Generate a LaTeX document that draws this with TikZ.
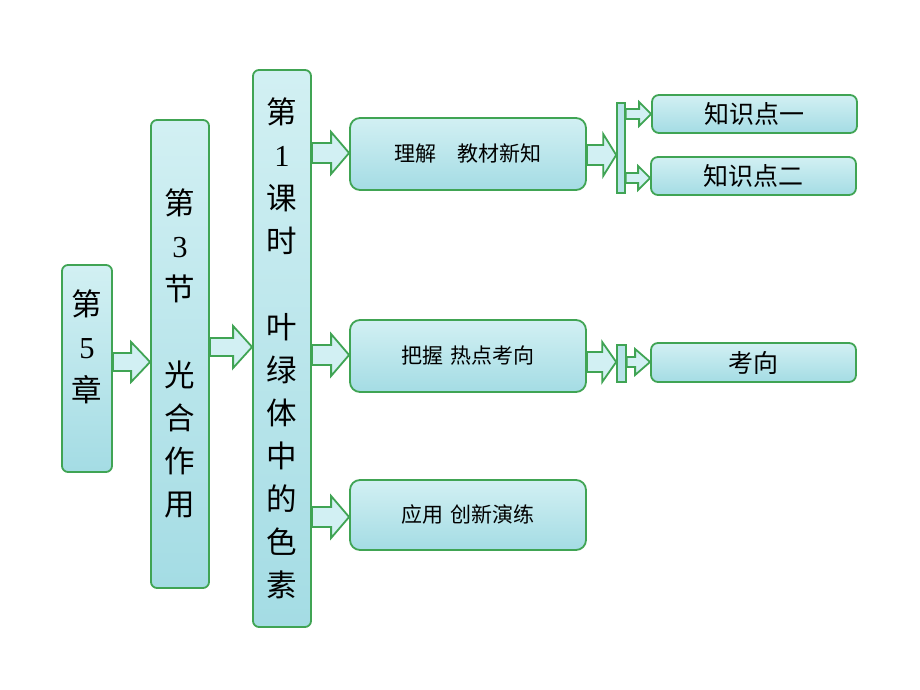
\documentclass[tikz,border=0pt]{standalone}
\usepackage{fontspec}
\setmainfont{Noto Sans CJK SC}
\newfontfamily\dig{Liberation Serif}
\usetikzlibrary{calc}
\definecolor{boxtop}{RGB}{210,240,243}
\definecolor{boxbot}{RGB}{164,220,228}
\definecolor{gline}{RGB}{64,164,84}
\tikzset{
  tallbox/.style={draw=gline,line width=1.8pt,rounded corners=6pt,top color=boxtop,bottom color=boxbot,inner sep=0pt},
  widebox/.style={draw=gline,line width=1.8pt,rounded corners=10pt,top color=boxtop,bottom color=boxbot,inner sep=0pt},
  barbox/.style={draw=gline,line width=1.6pt,fill=boxbot!80!white,inner sep=0pt},
  tallText/.style={align=center,font=\fontsize{30.5}{43}\selectfont,inner sep=0pt},
  wideText/.style={font=\fontsize{21}{24}\selectfont,inner sep=0pt},
  smallText/.style={font=\fontsize{25}{28}\selectfont,inner sep=0pt},
  arrowst/.style={draw=gline,line width=1.8pt,fill=boxtop,line join=miter}
}
% #1 from, #2 to, #3 y, #4 shaft half, #5 head half, #6 head length
\newcommand\blk[6]{%
  \draw[arrowst] let \p1=(#1.east), \p2=(#2.west) in
    (\x1,#3-#4) -- (\x2-#6,#3-#4) -- (\x2-#6,#3-#5) -- (\x2,#3)
    -- (\x2-#6,#3+#5) -- (\x2-#6,#3+#4) -- (\x1,#3+#4) -- cycle;}
\begin{document}
\begin{tikzpicture}[x=1pt,y=1pt]
\useasboundingbox (0,0) rectangle (920,690);
% tall boxes
\node[tallbox,minimum width=50pt,minimum height=207pt] (ch) at (87,321.5) {};
\node[tallText] (chT) at (87,343) {第\\{\dig 5}\\章};
\node[tallbox,minimum width=58pt,minimum height=468pt] (sec) at (180,336) {};
\node[tallText] (secT) at (180,337) {第\\{\dig 3}\\节\\\\光\\合\\作\\用};
\node[tallbox,minimum width=58pt,minimum height=557pt] (les) at (282,341.5) {};
\node[tallText] (lesT) at (282,342) {第\\{\dig 1}\\课\\时\\\\叶\\绿\\体\\中\\的\\色\\素};
% wide boxes
\node[widebox,minimum width=236pt,minimum height=72pt] (lj) at (468,536) {};
\node[wideText] (ljT) at (468,536) {理解　教材新知};
\node[widebox,minimum width=236pt,minimum height=72pt] (bw) at (468,334) {};
\node[wideText] (bwT) at (468,334) {把握\hspace{0.35em}热点考向};
\node[widebox,minimum width=236pt,minimum height=70pt] (yy) at (468,175) {};
\node[wideText] (yyT) at (468,175) {应用\hspace{0.35em}创新演练};
% bars
\node[barbox,minimum width=8pt,minimum height=90pt] (bar1) at (621,542) {};
\node[barbox,minimum width=9pt,minimum height=37pt] (bar2) at (621.5,326.5) {};
% right boxes
\node[widebox,rounded corners=7pt,minimum width=205pt,minimum height=38pt] (k1) at (754.5,576) {};
\node[smallText] (k1T) at (754.5,576) {知识点一};
\node[widebox,rounded corners=7pt,minimum width=205pt,minimum height=38pt] (k2) at (753.5,514) {};
\node[smallText] (k2T) at (753.5,514) {知识点二};
\node[widebox,rounded corners=7pt,minimum width=205pt,minimum height=39pt] (kx) at (753.5,327.5) {};
\node[smallText] (kxT) at (753.5,327.5) {考向};
% arrows
\blk{ch}{sec}{328}{9}{20}{19}
\blk{sec}{les}{343}{9}{21}{19}
\blk{les}{lj}{537}{10}{21}{18}
\blk{les}{bw}{335}{10}{21}{18}
\blk{les}{yy}{173}{10}{21}{18}
\blk{lj}{bar1}{535}{10}{21}{13}
\blk{bar1}{k1}{576}{5}{12}{12}
\blk{bar1}{k2}{512}{5}{12}{12}
\blk{bw}{bar2}{328}{10}{20}{14}
\blk{bar2}{kx}{328}{5}{13}{15}
\end{tikzpicture}
\end{document}
